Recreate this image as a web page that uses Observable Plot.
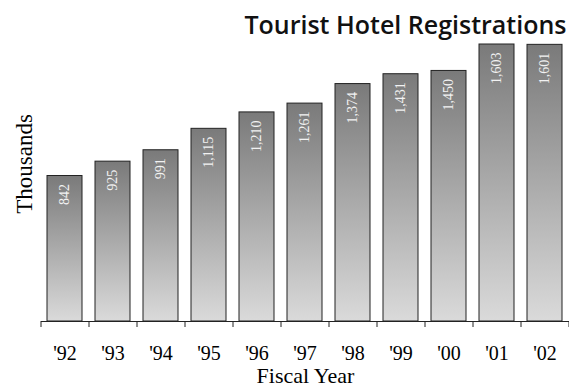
<!DOCTYPE html>
<html>
<head>
<meta charset="utf-8">
<script src="https://cdn.jsdelivr.net/npm/d3@7"></script>
<script src="https://cdn.jsdelivr.net/npm/@observablehq/plot@0.6"></script>
<style>
  html, body { margin: 0; padding: 0; background: #fff; }
  #chart svg { display: block; }
</style>
</head>
<body>
<div id="chart"></div>
<script>
const years = ["'92", "'93", "'94", "'95", "'96", "'97", "'98", "'99", "'00", "'01", "'02"];
const registrations = [842, 925, 991, 1115, 1210, 1261, 1374, 1431, 1450, 1603, 1601];
const titleText = "Tourist Hotel Registrations";
const yLabel = "Thousands";
const xLabel = "Fiscal Year";

const data = years.map((y, i) => ({year: y, value: registrations[i]}));
const fmt = d3.format(",");
const serif = "'Liberation Serif', 'Times New Roman', serif";

const plot = Plot.plot({
  width: 569,
  height: 387,
  marginLeft: 41,
  marginRight: 0,
  marginTop: 44,
  marginBottom: 66,
  x: {domain: years, paddingInner: 0.27, paddingOuter: 0.135, axis: null},
  y: {domain: [0, 1603], axis: null},
  marks: [
    Plot.barY(data, {x: "year", y: "value", fill: "url(#barGrad)", stroke: "#222", strokeWidth: 1}),
    Plot.text(data, {x: "year", y: "value", text: d => fmt(d.value), rotate: -90, textAnchor: "end", lineAnchor: "middle", dy: 8, fill: "#f2f2f2", fontSize: 14, fontFamily: serif}),
    Plot.ruleY([0], {stroke: "#222"}),
    Plot.axisX({tickSize: 6, tickFormat: () => "", dx: -24, label: null, stroke: "#222"}),
    Plot.axisX({ticks: [years[years.length - 1]], tickSize: 6, tickFormat: () => "", dx: 24, label: null, stroke: "#222"}),
    Plot.text(years, {x: d => d, text: d => d, frameAnchor: "bottom", dy: 32, lineAnchor: "middle", fontSize: 20, fontFamily: serif, fill: "#000"}),
    Plot.text([xLabel], {frameAnchor: "bottom", dy: 54, lineAnchor: "middle", fontSize: 22, fontFamily: serif, fill: "#000"}),
    Plot.text([yLabel], {frameAnchor: "left", rotate: -90, textAnchor: "middle", dx: -17, dy: -19, lineAnchor: "middle", fontSize: 23, fontFamily: serif, fill: "#000"}),
    Plot.text([titleText], {frameAnchor: "top-right", textAnchor: "end", lineAnchor: "bottom", dx: -3, dy: -11, fontSize: 25, fontWeight: 600, fontFamily: "'Open Sans', sans-serif", fill: "#111"})
  ]
});

const ns = "http://www.w3.org/2000/svg";
const defs = document.createElementNS(ns, "defs");
defs.innerHTML = `<linearGradient id="barGrad" x1="0" y1="0" x2="0" y2="1">
  <stop offset="0" stop-color="#7a7a7a"/>
  <stop offset="1" stop-color="#dadada"/>
</linearGradient>`;
plot.insertBefore(defs, plot.firstChild);
document.getElementById("chart").appendChild(plot);
</script>
</body>
</html>
